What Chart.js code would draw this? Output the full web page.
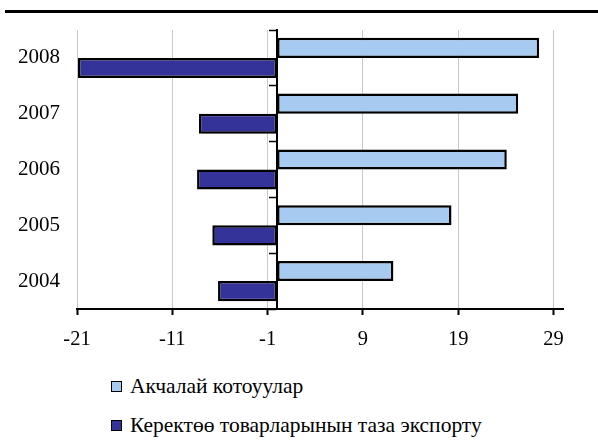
<!DOCTYPE html>
<html>
<head>
<meta charset="utf-8">
<script src="https://cdn.jsdelivr.net/npm/chart.js@4"></script>
<style>
  html, body { margin: 0; padding: 0; background: #fff; }
  #wrap { position: relative; width: 598px; height: 444px; overflow: hidden; }
  #topline { position: absolute; left: 5px; right: 0; top: 10px; height: 3px; background: #000; }
  #cwrap { position: absolute; left: 0; top: 0; width: 598px; height: 360px; }
  #legend { position: absolute; left: 111px; top: 367px; font-family: "Liberation Serif", serif; font-size: 21.5px; color: #000; }
  .li { display: flex; align-items: center; height: 39px; white-space: nowrap; }
  .box { width: 9px; height: 9px; border: 1.5px solid #000; margin-right: 8px; flex: none; }
</style>
</head>
<body>
<div id="wrap">
  <div id="topline"></div>
  <div id="cwrap"><canvas id="c"></canvas></div>
  <div id="legend"></div>
</div>
<script>
const years = ['2008', '2007', '2006', '2005', '2004'];
const remittances = [27.5, 25.3, 24.1, 18.3, 12.2];
const netExports = [-20.9, -8.2, -8.4, -6.8, -6.2];
const xTickValues = [-21, -11, -1, 9, 19, 29];
const seriesNames = ['Акчалай котоуулар', 'Керектөө товарларынын таза экспорту'];
const seriesColors = ['#A6CAF0', '#333399'];

const fam = '"Liberation Serif", "Times New Roman", serif';

function draw() {
  new Chart(document.getElementById('c'), {
    type: 'bar',
    data: {
      labels: years,
      datasets: [
        { label: seriesNames[0], data: remittances, backgroundColor: seriesColors[0], yAxisID: 'y' },
        { label: seriesNames[1], data: netExports, backgroundColor: seriesColors[1], yAxisID: 'y' }
      ]
    },
    options: {
      indexAxis: 'y',
      responsive: true,
      maintainAspectRatio: false,
      animation: false,
      layout: { padding: { top: 30, right: 35, left: 0, bottom: 0 } },
      datasets: {
        bar: {
          borderColor: '#000',
          borderWidth: 2.5,
          borderSkipped: false,
          categoryPercentage: 0.72,
          barPercentage: 1.0
        }
      },
      plugins: { legend: { display: false }, tooltip: { enabled: false } },
      scales: {
        y: {
          type: 'category',
          position: 'left',
          offset: true,
          grid: { display: false, drawTicks: false },
          border: { display: false },
          ticks: { font: { family: fam, size: 21 }, color: '#000', padding: 17 },
          afterFit: s => { s.width = 77; }
        },
        y2: {
          type: 'category',
          position: { x: 0 },
          offset: true,
          grid: { offset: true, drawOnChartArea: false, drawTicks: true, tickLength: 7, tickColor: '#000', tickWidth: 1.5 },
          border: { display: true, color: '#000', width: 2 },
          ticks: { display: false }
        },
        x: {
          type: 'linear',
          min: -21,
          max: 30,
          grid: { color: '#c8c8c8', lineWidth: 1, tickColor: '#000', tickWidth: 2, tickLength: 6 },
          border: { display: true, color: '#000', width: 2 },
          ticks: { font: { family: fam, size: 20.5 }, color: '#000', padding: 12, maxRotation: 0 },
          afterBuildTicks: s => { s.ticks = xTickValues.map(v => ({ value: v })); },
          afterFit: s => { s.height = 51; }
        }
      }
    }
  });
}

const lg = document.getElementById('legend');
seriesNames.forEach((n, i) => {
  const row = document.createElement('div');
  row.className = 'li';
  const b = document.createElement('span');
  b.className = 'box';
  b.style.background = seriesColors[i];
  const t = document.createElement('span');
  t.textContent = n;
  row.appendChild(b); row.appendChild(t);
  lg.appendChild(row);
});

Promise.all([
  document.fonts.load('21px "Liberation Serif"', '2008 Керектөө'),
  document.fonts.load('20.5px "Liberation Serif"', '-21')
]).then(draw, draw);
</script>
</body>
</html>
